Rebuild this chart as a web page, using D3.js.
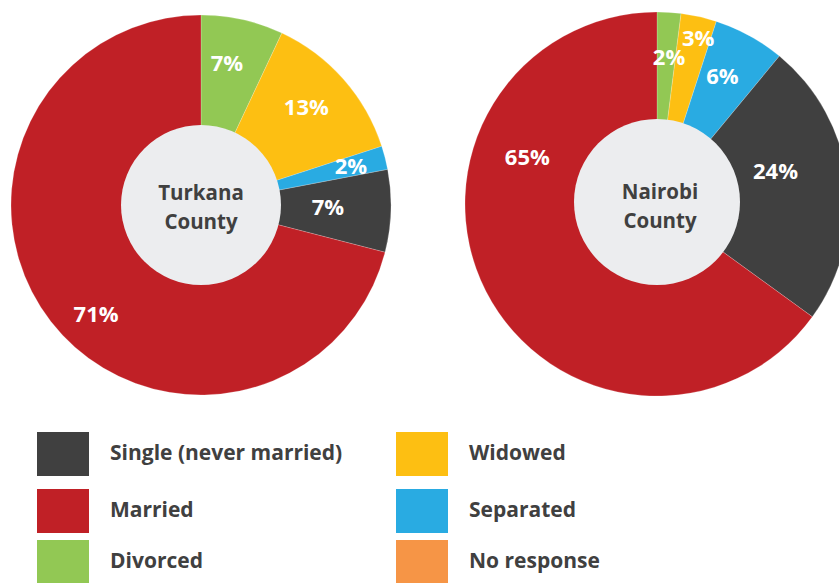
<!DOCTYPE html>
<html><head><meta charset="utf-8">
<script src="https://cdn.jsdelivr.net/npm/d3@7"></script>
<style>
html,body{margin:0;padding:0;background:#fff;overflow:hidden}
svg{display:block;font-family:"Open Sans",sans-serif}
</style></head>
<body>
<script>
// Data
const categories = ["Divorced","Widowed","Separated","Single (never married)","Married"];
const turkanaValues = [7,13,2,7,71];
const nairobiValues = [2,3,6,24,65];
const countyNames = [["Turkana","County"],["Nairobi","County"]];
const legendLabels = ["Single (never married)","Married","Divorced","Widowed","Separated","No response"];

// Styles / layout
const colorMap = {
  "Single (never married)":"#404040","Married":"#c02026","Divorced":"#92c854",
  "Widowed":"#fdbf12","Separated":"#29abe2","No response":"#f69546"
};
const W=839,H=583;
const charts = [
  {values:turkanaValues, name:countyNames[0], cx:201, cy:205, r:190, ri:80, ty:0, tx:0,
   labels:[[10.4,144],[47,144],[75.4,155],[91,127],[224,151]]},
  {values:nairobiValues, name:countyNames[1], cx:657, cy:204, r:192, ri:83, ty:-2, tx:3,
   labels:[[4.7,147],[13.9,171],[27,144],[74.5,123],[290,138]]}
];

const svg = d3.select("body").append("svg").attr("width",W).attr("height",H);
const pie = d3.pie().sort(null).value(d=>d);

charts.forEach(c=>{
  const g = svg.append("g").attr("transform",`translate(${c.cx},${c.cy})`);
  const arc = d3.arc().innerRadius(0).outerRadius(c.r);
  const arcs = pie(c.values);
  g.selectAll("path").data(arcs).join("path")
    .attr("d",arc)
    .attr("fill",(d,i)=>colorMap[categories[i]])
    .attr("stroke","#ffffff").attr("stroke-width",0.4).attr("stroke-opacity",0.5);
  g.append("circle").attr("cy",c.ty).attr("r",c.ri).attr("fill","#ecedef");
  g.selectAll("text.pct").data(arcs).join("text").attr("class","pct")
    .attr("transform",(d,i)=>{
      const p = d3.pointRadial(c.labels[i][0]*Math.PI/180, c.labels[i][1]);
      return `translate(${p[0]},${p[1]})`;
    })
    .attr("text-anchor","middle").attr("dy","0.36em")
    .attr("fill","#ffffff").attr("font-size",22).attr("font-weight",700)
    .text(d=>d.value+"%");
  g.append("text").attr("text-anchor","middle").attr("x",c.tx).attr("y",-5)
    .attr("fill","#404040").attr("font-size",20.5).attr("font-weight",700)
    .text(c.name[0]);
  g.append("text").attr("text-anchor","middle").attr("x",c.tx).attr("y",23.5)
    .attr("fill","#404040").attr("font-size",20.5).attr("font-weight",700)
    .text(c.name[1]);
});

// Legend
const legCols=[37,396], legRows=[432,489,540], sq=[52,44];
const lg = svg.append("g");
legendLabels.forEach((lab,i)=>{
  const col=Math.floor(i/3), row=i%3;
  const x=legCols[col], y=legRows[row];
  lg.append("rect").attr("x",x).attr("y",y).attr("width",sq[0]).attr("height",sq[1])
    .attr("fill",colorMap[lab]);
  lg.append("text").attr("x",x+73).attr("y",y+sq[1]/2-2).attr("dy","0.36em")
    .attr("fill","#404040").attr("font-size",21).attr("font-weight",700)
    .text(lab);
});
</script>
</body></html>
